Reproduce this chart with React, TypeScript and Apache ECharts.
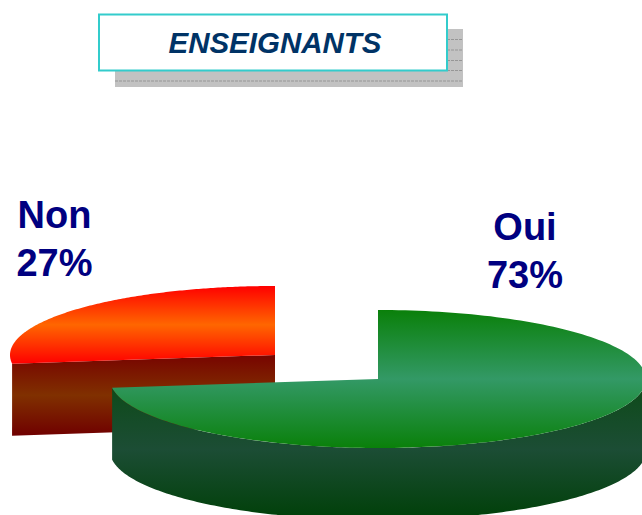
import React, { useEffect, useRef } from "react";
import * as echarts from "echarts";

const categories = ["Oui", "Non"];
const shares = [73, 27];
const pageTitle = "ENSEIGNANTS";

const FONT = '"Liberation Sans", Arial, sans-serif';
const radiiX = [268, 265];
const RY = 69;
const DEPTH = 72;
const centers = [
  { x: 378, y: 379 },
  { x: 275, y: 355 },
];
const labelPos = [
  { x: 525, y: 251 },
  { x: 54.5, y: 239 },
];
const vGrad = (stops: string[]) => ({
  type: "linear",
  x: 0,
  y: 0,
  x2: 0,
  y2: 1,
  colorStops: stops.map((color, i) => ({ offset: i / (stops.length - 1), color })),
});
const topFill = [
  vGrad(["#0a800a", "#339966", "#0a800a"]),
  vGrad(["#ff0000", "#ff6600", "#ff0000"]),
];
const wallFill = [
  vGrad(["#0c4a16", "#1c4d35", "#004008"]),
  vGrad(["#780400", "#803000", "#700000"]),
];

const total = shares.reduce((a, b) => a + b, 0);

function renderSlice(params: any, api: any) {
  const i = params.seriesIndex === 1 ? 0 : 1;
  const value = api.value(0);
  const before = shares.slice(0, i).reduce((a, b) => a + b, 0);
  const a0 = (before / total) * 2 * Math.PI;
  const a1 = ((before + value) / total) * 2 * Math.PI;
  const c = centers[i];
  const RX = radiiX[i];
  const pt = (t: number, dy = 0) => [c.x + RX * Math.sin(t), c.y - RY * Math.cos(t) + dy];
  const rim: number[][] = [];
  const steps = 180;
  for (let k = 0; k <= steps; k++) rim.push(pt(a0 + ((a1 - a0) * k) / steps));

  const children: any[] = [];
  if (i === 0) {
    // outer wall, on the visible front half of the rim
    const from = Math.max(a0, Math.PI / 2);
    const front: number[][] = [];
    for (let k = 0; k <= steps; k++) front.push(pt(from + ((a1 - from) * k) / steps));
    const lower = front.map(([x, y]) => [x, y + DEPTH]).reverse();
    children.push({
      type: "polygon",
      shape: { points: [...front, ...lower] },
      style: { fill: wallFill[i] },
    });
  } else {
    // cut face, seen from the front
    const end = pt(a0);
    children.push({
      type: "polygon",
      shape: {
        points: [
          [c.x, c.y],
          end,
          [end[0], end[1] + DEPTH],
          [c.x, c.y + DEPTH],
        ],
      },
      style: { fill: wallFill[i] },
    });
  }
  children.push({
    type: "polygon",
    shape: { points: [[c.x, c.y], ...rim] },
    style: { fill: topFill[i] },
  });
  children.push({
    type: "text",
    x: labelPos[i].x,
    y: labelPos[i].y,
    style: {
      text: `${categories[i]}\n${value}%`,
      fill: "#000080",
      font: `bold 38px ${FONT}`,
      lineHeight: 48,
      align: "center",
      verticalAlign: "middle",
    },
  });
  return { type: "group", children };
}

const shadowLines = [39.5, 50, 60.5, 70.5, 81];

export default function App() {
  const ref = useRef<HTMLDivElement>(null);
  useEffect(() => {
    const chart = echarts.init(ref.current!, undefined, { renderer: "svg" });
    chart.setOption({
      animation: false,
      backgroundColor: "#ffffff",
      series: [
        {
          type: "custom",
          coordinateSystem: "none",
          silent: true,
          z: 1,
          clip: false,
          data: [[shares[1]]],
          renderItem: renderSlice,
        },
        {
          type: "custom",
          coordinateSystem: "none",
          silent: true,
          z: 2,
          clip: false,
          data: [[shares[0]]],
          renderItem: renderSlice,
        },
      ],
      graphic: [
        { type: "rect", z: 5, shape: { x: 115, y: 29, width: 348, height: 58 }, style: { fill: "#c2c2c2" } },
        ...shadowLines.map((y) => ({
          type: "line",
          z: 5,
          shape: { x1: 115, y1: y, x2: 463, y2: y },
          style: { stroke: "#969696", lineWidth: 1, lineDash: [3, 1] },
        })),
        {
          type: "rect",
          z: 6,
          shape: { x: 99, y: 14.5, width: 348, height: 56 },
          style: { fill: "#ffffff", stroke: "#33cccc", lineWidth: 2 },
        },
        {
          type: "text",
          z: 7,
          x: 275,
          y: 42,
          style: {
            text: pageTitle,
            fill: "#003366",
            font: `italic bold 29.5px ${FONT}`,
            align: "center",
            verticalAlign: "middle",
          },
        },
      ],
    });
    return () => chart.dispose();
  }, []);
  return <div ref={ref} style={{ position: "absolute", left: 0, top: 0, width: 642, height: 515 }} />;
}
